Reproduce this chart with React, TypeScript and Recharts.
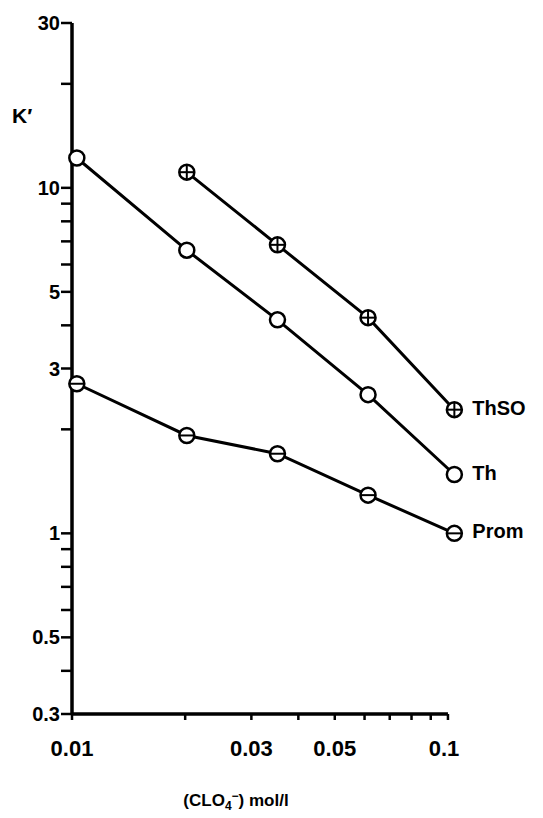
import React from 'react';
import { LineChart, Line, XAxis, YAxis, ReferenceLine } from 'recharts';

// perchlorate concentration, mol/l
const conc = [0.0103, 0.0202, 0.0352, 0.0613, 0.104];
const kTh = [12.2, 6.6, 4.15, 2.52, 1.48];
const kThSO = [11.1, 6.84, 4.21, 2.28];
const kProm = [2.71, 1.92, 1.7, 1.29, 1.0];

const yTicks = [0.3, 0.4, 0.5, 0.6, 0.7, 0.8, 0.9, 1, 2, 3, 4, 5, 6, 7, 8, 9, 10, 20, 30];
const yLabels: { [k: string]: string } = { '0.3': '0.3', '0.5': '0.5', '1': '1', '3': '3', '5': '5', '10': '10', '30': '30' };
const xTicks = [0.01, 0.02, 0.03, 0.04, 0.05, 0.06, 0.07, 0.08, 0.09, 0.1];
const xLabels: { [k: string]: string } = { '0.01': '0.01', '0.03': '0.03', '0.05': '0.05', '0.1': '0.1' };

const thData = conc.map((c, i) => ({ c, k: kTh[i] }));
const thsoData = conc.slice(1).map((c, i) => ({ c, k: kThSO[i] }));
const promData = conc.map((c, i) => ({ c, k: kProm[i] }));

const FONT = '"Liberation Sans", Arial, sans-serif';

const makeDot = (kind: 'plain' | 'plus' | 'minus', name: string, last: number) => (props: any) => {
    const { cx, cy, index } = props;
    const r = 7.5;
    return (
        <g key={`${name}-${index}`}>
            <circle cx={cx} cy={cy} r={r} fill="#fff" stroke="#000" strokeWidth={2.5} />
            {kind !== 'plain' && <line x1={cx - r} y1={cy} x2={cx + r} y2={cy} stroke="#000" strokeWidth={2} />}
            {kind === 'plus' && <line x1={cx} y1={cy - r} x2={cx} y2={cy + r} stroke="#000" strokeWidth={2} />}
            {index === last && (
                <text x={cx + 18} y={cy + 5} fontFamily={FONT} fontWeight="bold" fontSize={20} fill="#000">
                    {name}
                </text>
            )}
        </g>
    );
};

const YTick = (props: any) => {
    const { x, y, payload } = props;
    const lbl = yLabels[String(payload.value)];
    return (
        <g>
            <line x1={x - 11} y1={y} x2={x} y2={y} stroke="#000" strokeWidth={2.5} />
            {lbl && (
                <text x={x - 12} y={y + 7} textAnchor="end" fontFamily={FONT} fontWeight="bold" fontSize={20} fill="#000">
                    {lbl}
                </text>
            )}
        </g>
    );
};

const XTick = (props: any) => {
    const { x, y, payload } = props;
    const lbl = xLabels[String(payload.value)];
    return (
        <g>
            <line x1={x} y1={y} x2={x} y2={y + 6} stroke="#000" strokeWidth={2.5} />
            {lbl && (
                <text x={payload.value === 0.1 ? x - 4 : x} y={y + 42} textAnchor="middle" fontFamily={FONT} fontWeight="bold" fontSize={22} fill="#000">
                    {lbl}
                </text>
            )}
        </g>
    );
};

export default function App() {
    return (
        <div style={{ position: 'absolute', left: 0, top: 0, width: 543, height: 818, background: '#fff' }}>
            <LineChart width={543} height={818} margin={{ top: 23, right: 84, bottom: 0, left: 0 }}>
                <XAxis
                    dataKey="c"
                    type="number"
                    scale="log"
                    domain={[0.01, 0.107]}
                    ticks={xTicks}
                    interval={0}
                    axisLine={false}
                    tickLine={false}
                    tickSize={0}
                    tickMargin={0}
                    height={104}
                    tick={<XTick />}
                />
                <YAxis
                    type="number"
                    scale="log"
                    domain={[0.3, 30]}
                    ticks={yTicks}
                    interval={0}
                    axisLine={{ stroke: '#000', strokeWidth: 3.5 }}
                    tickLine={false}
                    tickSize={0}
                    tickMargin={0}
                    width={72}
                    tick={<YTick />}
                />
                <ReferenceLine segment={[{ x: 0.01, y: 0.3 }, { x: 0.1, y: 0.3 }]} stroke="#000" strokeWidth={3.5} />
                <Line data={thsoData} dataKey="k" stroke="#000" strokeWidth={3} isAnimationActive={false} dot={makeDot('plus', 'ThSO', thsoData.length - 1)} />
                <Line data={thData} dataKey="k" stroke="#000" strokeWidth={3} isAnimationActive={false} dot={makeDot('plain', 'Th', thData.length - 1)} />
                <Line data={promData} dataKey="k" stroke="#000" strokeWidth={3} isAnimationActive={false} dot={makeDot('minus', 'Prom', promData.length - 1)} />
                <text x={12} y={123} fontFamily={FONT} fontWeight="bold" fontSize={21} fill="#000">K′</text>
                <text x={236} y={806} textAnchor="middle" fontFamily={FONT} fontWeight="bold" fontSize={17} fill="#000">
                    (CLO<tspan fontSize={12} dy={4}>4</tspan><tspan fontSize={12} dy={-10}>−</tspan><tspan dy={6}>) mol/l</tspan>
                </text>
            </LineChart>
        </div>
    );
}
